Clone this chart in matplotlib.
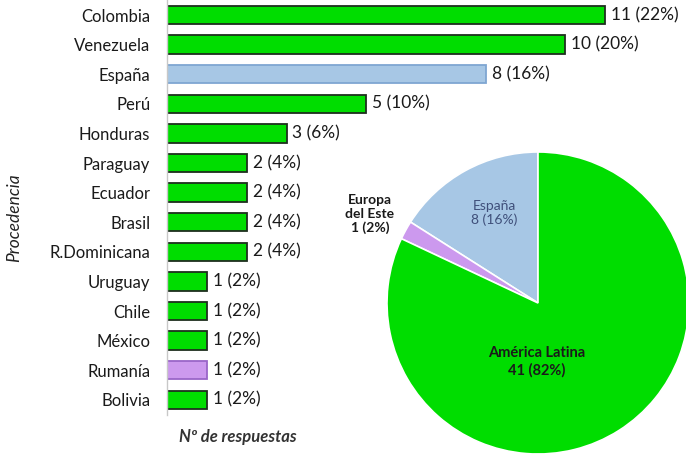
import matplotlib.pyplot as plt

plt.rcParams['font.family'] = ['Lato', 'DejaVu Sans']

# Data
countries = ['Colombia', 'Venezuela', 'España', 'Perú', 'Honduras', 'Paraguay',
             'Ecuador', 'Brasil', 'R.Dominicana', 'Uruguay', 'Chile', 'México',
             'Rumanía', 'Bolivia']
counts = [11, 10, 8, 5, 3, 2, 2, 2, 2, 1, 1, 1, 1, 1]
pcts = [22, 20, 16, 10, 6, 4, 4, 4, 4, 2, 2, 2, 2, 2]
regions = ['España', 'Europa del Este', 'América Latina']
region_labels = ['España\n8 (16%)', 'Europa\ndel Este\n1 (2%)', 'América Latina\n41 (82%)']
region_counts = [8, 1, 41]

green = '#00DD00'
blue = '#A7C7E5'
purple = '#CC99EE'

bar_face = []
bar_edge = []
for c in countries:
    if c == 'España':
        bar_face.append(blue); bar_edge.append('#7FA6D2')
    elif c == 'Rumanía':
        bar_face.append(purple); bar_edge.append('#9A66C8')
    else:
        bar_face.append(green); bar_edge.append('#1E2E1E')

W, H = 686, 457
fig = plt.figure(figsize=(W / 100, H / 100), dpi=100)
fig.patch.set_facecolor('white')

# ---- bar chart ----
ax = fig.add_axes([167 / W, (H - 414.6) / H, 478 / W, 414.4 / H])
y = list(range(len(countries)))
ax.barh(y, counts, height=0.62, color=bar_face, edgecolor=bar_edge, linewidth=1.3)
ax.set_xlim(0, 12)
ax.set_ylim(len(countries) - 0.5, -0.5)
ax.set_yticks(y)
ax.set_yticklabels(countries, fontsize=12, color='#1a1a1a')
ax.tick_params(axis='y', length=0, pad=12)
ax.set_xticks([])
for s in ['top', 'right', 'bottom']:
    ax.spines[s].set_visible(False)
ax.spines['left'].set_color('#c8c8c8')
ax.spines['left'].set_linewidth(1.0)
for yi, c, p in zip(y, counts, pcts):
    ax.text(c + 0.15, yi, f'{c} ({p}%)', va='center', ha='left',
            fontsize=12.5, color='#1a1a1a')

fig.text(14 / W, 1 - 218 / H, 'Procedencia', rotation=90, ha='center', va='center',
         fontsize=12.5, fontstyle='italic', color='#222222')
fig.text(238 / W, 1 - 437 / H, 'Nº de respuestas', ha='center', va='center',
         fontsize=12, fontstyle='italic', fontweight='bold', color='#333333')

# ---- pie chart ----
cx, cy, r = 538, 303, 151
side = 2 * r * 1.25
pax = fig.add_axes([(cx - side / 2) / W, (H - cy - side / 2) / H, side / W, side / H])
pax.pie(region_counts, colors=[blue, purple, green], startangle=90,
        counterclock=True, radius=1.0,
        wedgeprops=dict(edgecolor='white', linewidth=1.2))
pax.set_xlim(-1.25, 1.25)
pax.set_ylim(-1.25, 1.25)
pax.set_aspect('equal')
pax.axis('off')

def to_pie(px, py):
    return ((px - cx) / r, (cy - py) / r)

x0, y0 = to_pie(494, 213)
pax.text(x0, y0, region_labels[0], ha='center', va='center', fontsize=10,
         color='#3F4F7A', linespacing=1.2)
x1, y1 = to_pie(370, 214)
pax.text(x1, y1, region_labels[1], ha='center', va='center', fontsize=10,
         fontweight='bold', color='#1a1a1a', linespacing=1.15)
x2, y2 = to_pie(537, 362)
pax.text(x2, y2, region_labels[2], ha='center', va='center', fontsize=10.5,
         fontweight='bold', color='#1a1a1a', linespacing=1.3)

fig.savefig('out.png', dpi=100, facecolor='white')
